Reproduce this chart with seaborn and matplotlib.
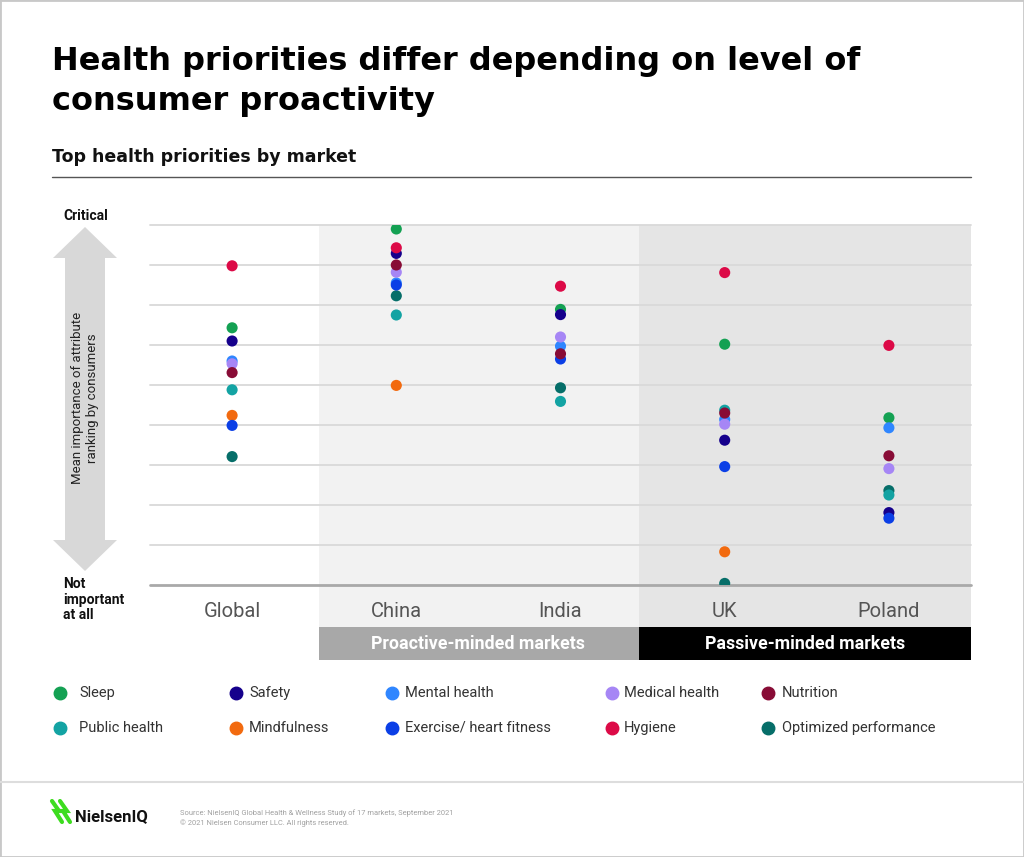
import numpy as np
import pandas as pd
import matplotlib.pyplot as plt
import seaborn as sns
from matplotlib.patches import Polygon, Rectangle
from matplotlib.lines import Line2D

# data (0 = not important at all ... 9 = critical)
markets = ["Global", "China", "India", "UK", "Poland"]
sleep = [6.43, 8.90, 6.89, 6.02, 4.18]
safety = [6.10, 8.29, 6.76, 3.62, 1.81]
mental_health = [5.60, 7.55, 5.97, 4.14, 3.93]
medical_health = [5.53, 7.82, 6.20, 4.02, 2.91]
nutrition = [5.31, 8.00, 5.78, 4.30, 3.23]
public_health = [4.88, 6.75, 4.59, 4.37, 2.25]
mindfulness = [4.24, 4.99, np.nan, 0.83, np.nan]
exercise = [3.99, 7.50, 5.65, 2.96, 1.67]
hygiene = [7.98, 8.43, 7.47, 7.81, 5.99]
optimized = [3.21, 7.23, 4.93, 0.04, 2.36]

attributes = ["Sleep", "Safety", "Mental health", "Medical health", "Nutrition",
              "Public health", "Mindfulness", "Exercise/ heart fitness", "Hygiene",
              "Optimized performance"]
colors = ["#14a153", "#15008c", "#2f86ff", "#a686f5", "#880c36",
          "#13a3a3", "#f26a0f", "#0b3fe6", "#dc0a47", "#066e69"]
palette = dict(zip(attributes, colors))

series = {
    "Optimized performance": optimized,
    "Sleep": sleep,
    "Safety": safety,
    "Mental health": mental_health,
    "Medical health": medical_health,
    "Public health": public_health,
    "Mindfulness": mindfulness,
    "Exercise/ heart fitness": exercise,
    "Nutrition": nutrition,
    "Hygiene": hygiene,
}
rows = []
for name, vals in series.items():
    for m, v in zip(markets, vals):
        rows.append({"market": m, "attribute": name, "score": v})
df = pd.DataFrame(rows).dropna()

sns.set_theme(style="white")
plt.rcParams["font.family"] = ["Roboto", "DejaVu Sans"]


def fx(x):
    return x / 1024


def fy(y):
    return 1 - y / 857


fig = plt.figure(figsize=(10.24, 8.57), dpi=100)
ax = fig.add_axes([fx(150), fy(585), fx(971) - fx(150), fy(225) - fy(585)])

# market groups
ax.axvspan(0.53, 2.48, ymin=-0.117, ymax=1, color="#f2f2f2", lw=0, zorder=0, clip_on=False)
ax.axvspan(2.48, 4.5, ymin=-0.117, ymax=1, color="#e5e5e5", lw=0, zorder=0, clip_on=False)
ax.axvspan(0.53, 2.48, ymin=-0.208, ymax=-0.117, color="#a8a8a8", lw=0, clip_on=False)
ax.axvspan(2.48, 4.5, ymin=-0.208, ymax=-0.117, color="#000000", lw=0, clip_on=False)
tr = ax.get_xaxis_transform()
ax.text(1.5, -0.163, "Proactive-minded markets", transform=tr, ha="center", va="center",
        color="white", fontsize=12.8, fontweight="bold")
ax.text(3.49, -0.163, "Passive-minded markets", transform=tr, ha="center", va="center",
        color="white", fontsize=12.8, fontweight="bold")

for v in range(1, 10):
    ax.axhline(v, color="#d9d9d9", lw=1.3, zorder=1, clip_on=False)
ax.axhline(0, color="#a9a9a9", lw=2, zorder=1, clip_on=False)

sns.stripplot(data=df, x="market", y="score", hue="attribute", palette=palette,
              order=markets, jitter=False, size=8, linewidth=0, legend=False,
              ax=ax, zorder=3)

ax.set_xlim(-0.5, 4.5)
ax.set_ylim(0, 9)
ax.set_xlabel("")
ax.set_ylabel("")
ax.set_yticks([])
ax.tick_params(axis="x", length=0, pad=12, labelsize=14.5, labelcolor="#555555")
for s in ax.spines.values():
    s.set_visible(False)
ax.patch.set_alpha(0)

# title block
fig.text(fx(52), fy(46), "Health priorities differ depending on level of\nconsumer proactivity",
         ha="left", va="top", fontsize=23, fontweight="bold", linespacing=1.38,
         family=["DejaVu Sans"], color="#000000")
fig.text(fx(52), fy(157), "Top health priorities by market", ha="left", va="center",
         fontsize=12.5, fontweight="bold", family=["DejaVu Sans"], color="#111111")
fig.add_artist(Line2D([fx(52), fx(971)], [fy(177), fy(177)], color="#555555", lw=1))

# y axis arrow and labels
arrow_px = [(85, 227), (117, 258), (105, 258), (105, 540), (117, 540), (85, 571),
            (53, 540), (65, 540), (65, 258), (53, 258)]
fig.add_artist(Polygon([(fx(x), fy(y)) for x, y in arrow_px], closed=True,
                       transform=fig.transFigure, color="#d8d8d8", lw=0))
fig.text(fx(85), fy(398), "Mean importance of attribute\nranking by consumers", rotation=90,
         ha="center", va="center", fontsize=9.5, color="#222222", linespacing=1.15)
fig.text(fx(63), fy(216), "Critical", ha="left", va="center", fontsize=10,
         fontweight="bold", color="#111111")
fig.text(fx(63), fy(577), "Not\nimportant\nat all", ha="left", va="top", fontsize=10,
         fontweight="bold", color="#111111", linespacing=1.15)

# legend
marker_x = [60, 236, 392, 612, 768]
text_x = [79, 249, 405, 624, 782]
row_y = [693, 728]
for i, name in enumerate(attributes):
    r, c = divmod(i, 5)
    fig.add_artist(Line2D([fx(marker_x[c])], [fy(row_y[r])], marker="o", markersize=9,
                          color=palette[name], lw=0))
    fig.text(fx(text_x[c]), fy(row_y[r]), name, ha="left", va="center",
             fontsize=10.5, color="#333333")

# footer
fig.add_artist(Line2D([0, 1], [fy(782), fy(782)], color="#dddddd", lw=1.5))
for off in (0, 8):
    pts = [(52 + off, 801), (59 + off, 811), (55 + off, 811), (62 + off, 822)]
    fig.add_artist(Line2D([fx(p[0]) for p in pts], [fy(p[1]) for p in pts],
                          color="#3ddc1f", lw=3, solid_joinstyle="miter"))
fig.text(fx(75), fy(817), "NielsenIQ", ha="left", va="center", fontsize=12,
         fontweight="bold", color="#111111")
fig.text(fx(180), fy(813), "Source: NielsenIQ Global Health & Wellness Study of 17 markets, September 2021",
         ha="left", va="center", fontsize=5.4, color="#a0a0a0")
fig.text(fx(180), fy(823), "\u00a9 2021 Nielsen Consumer LLC. All rights reserved.",
         ha="left", va="center", fontsize=5.4, color="#a0a0a0")
fig.add_artist(Rectangle((0, 0), 1, 1, transform=fig.transFigure, fill=False,
                         ec="#c8c8c8", lw=2))

fig.savefig("out.png", dpi=100)
